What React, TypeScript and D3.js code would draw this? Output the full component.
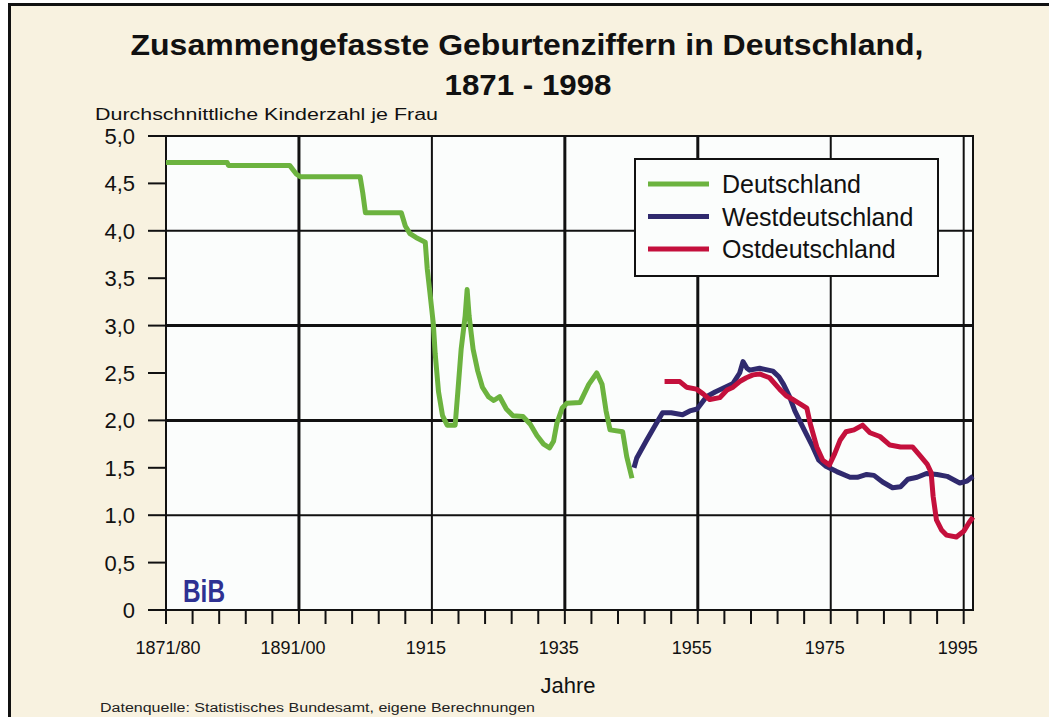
import * as d3 from "d3";

// [Jahr, Kinder je Frau]
const deutschland: [number, number][] = [
  [1875, 4.72], [1884.2, 4.72], [1884.4, 4.69], [1893.6, 4.69], [1894.6, 4.6], [1895.2, 4.57],
  [1904.2, 4.57], [1904.6, 4.4], [1905.0, 4.19], [1910.4, 4.19], [1911.0, 4.05], [1911.7, 3.97],
  [1912.6, 3.93], [1914.0, 3.88], [1914.3, 3.6], [1914.7, 3.35], [1915.2, 3.03], [1915.5, 2.7],
  [1916.0, 2.3], [1916.6, 2.05], [1917.3, 1.95], [1918.5, 1.95], [1918.9, 2.3], [1919.4, 2.75],
  [1920.0, 3.1], [1920.3, 3.38], [1920.6, 3.1], [1921.2, 2.75], [1921.9, 2.52], [1922.6, 2.35],
  [1923.5, 2.25], [1924.3, 2.21], [1925.2, 2.25], [1926.2, 2.12], [1927.2, 2.05], [1928.7, 2.04],
  [1929.8, 1.96], [1930.8, 1.84], [1931.8, 1.75], [1932.7, 1.71], [1933.3, 1.78], [1933.8, 1.97],
  [1934.6, 2.13], [1935.3, 2.18], [1937.3, 2.19], [1938.6, 2.38], [1939.8, 2.5], [1940.6, 2.38],
  [1941.2, 2.1], [1941.8, 1.9], [1943.7, 1.88], [1944.3, 1.62], [1945.1, 1.39],
];

const westdeutschland: [number, number][] = [
  [1945.4, 1.5], [1945.8, 1.6], [1947.3, 1.79], [1948.6, 1.95], [1949.7, 2.08], [1951, 2.08],
  [1952.7, 2.06], [1953.8, 2.1], [1954.9, 2.12], [1956.3, 2.25], [1957.6, 2.3], [1958.8, 2.34],
  [1960.3, 2.39], [1961.3, 2.5], [1961.8, 2.62], [1962.4, 2.55], [1962.8, 2.53], [1964.3, 2.55],
  [1966.3, 2.52], [1967.2, 2.46], [1967.9, 2.38], [1968.8, 2.25], [1969.6, 2.1], [1970.8, 1.93],
  [1972.3, 1.72], [1973.2, 1.58], [1974.2, 1.52], [1975.9, 1.46], [1977.9, 1.4], [1979, 1.4],
  [1980.4, 1.43], [1981.5, 1.42], [1982.8, 1.35], [1984.3, 1.29], [1985.5, 1.3], [1986.6, 1.38],
  [1988, 1.4], [1989.4, 1.44], [1991, 1.43], [1992.5, 1.41], [1994.4, 1.34], [1995.5, 1.36],
  [1996.4, 1.41],
];

const ostdeutschland: [number, number][] = [
  [1950, 2.41], [1952.3, 2.41], [1953.3, 2.35], [1954.8, 2.33], [1955.8, 2.28], [1956.8, 2.22],
  [1958.3, 2.24], [1959.4, 2.32], [1960.3, 2.35], [1961.3, 2.41], [1962.3, 2.45], [1963.3, 2.48],
  [1964.3, 2.49], [1965.8, 2.45], [1967.3, 2.33], [1968.3, 2.26], [1969.3, 2.22], [1970.5, 2.17],
  [1971.4, 2.13], [1971.9, 1.97], [1972.9, 1.72], [1973.8, 1.58], [1974.8, 1.53], [1975.6, 1.65],
  [1976.4, 1.79], [1977.3, 1.88], [1978.5, 1.9], [1979.8, 1.95], [1980.9, 1.87], [1982.4, 1.83],
  [1983.9, 1.74], [1985.5, 1.72], [1987.3, 1.72], [1988.4, 1.63], [1989.5, 1.54], [1990.1, 1.45],
  [1990.4, 1.2], [1990.9, 0.95], [1991.7, 0.84], [1992.4, 0.79], [1993.9, 0.77], [1995.0, 0.83],
  [1995.8, 0.92], [1996.4, 0.98],
];

const xTickLabels: [number, string][] = [
  [1875, "1871/80"], [1895, "1891/00"], [1915, "1915"], [1935, "1935"],
  [1955, "1955"], [1975, "1975"], [1995, "1995"],
];
const yTicks = [0, 0.5, 1, 1.5, 2, 2.5, 3, 3.5, 4, 4.5, 5];
const yGrid = [1, 2, 3, 4];

const series = [
  { name: "Deutschland", data: deutschland, color: "#6cb33f" },
  { name: "Westdeutschland", data: westdeutschland, color: "#302a6e" },
  { name: "Ostdeutschland", data: ostdeutschland, color: "#c4103c" },
];

const FONT = "'Liberation Sans', Arial, sans-serif";

export default function App() {
  const width = 1049;
  const height = 717;
  const left = 166, right = 973, top = 136, bottom = 610;

  const x = d3.scaleLinear().domain([1875, 1996.4]).range([left, right]);
  const y = d3.scaleLinear().domain([0, 5]).range([bottom, top]);
  const line = d3
    .line<[number, number]>()
    .x((d) => x(d[0]))
    .y((d) => y(d[1]));

  const minorTicks = d3.range(1875, 1996, 4);
  const thickV = new Set([1895, 1935, 1955]);
  const thickH = new Set([2, 3]);

  return (
    <div style={{ position: "absolute", left: 0, top: 0 }}>
      <svg width={width} height={height} style={{ display: "block", fontFamily: FONT }}>
        <rect width={width} height={height} fill="#ffffff" />
        <rect x={9.5} y={4.5} width={width + 20} height={height + 20} fill="#f8f2e0" stroke="#111" strokeWidth={3} />

        {/* titles */}
        <text x={527} y={55} textAnchor="middle" fontSize={30} fontWeight="bold" fill="#111" textLength={793} lengthAdjust="spacingAndGlyphs">
          Zusammengefasste Geburtenziffern in Deutschland,
        </text>
        <text x={528} y={95} textAnchor="middle" fontSize={30} fontWeight="bold" fill="#111" textLength={167} lengthAdjust="spacingAndGlyphs">
          1871 - 1998
        </text>
        <text x={95} y={120} fontSize={16} fill="#111" textLength={343} lengthAdjust="spacingAndGlyphs">
          Durchschnittliche Kinderzahl je Frau
        </text>

        {/* plot area */}
        <rect x={left} y={top} width={right - left} height={bottom - top} fill="#fbfdfc" />

        {yGrid.map((v) => (
          <line key={"h" + v} x1={left} x2={right} y1={y(v)} y2={y(v)} stroke="#111" strokeWidth={thickH.has(v) ? 3 : 2} />
        ))}
        {xTickLabels.slice(1).map(([yr]) => (
          <line key={"v" + yr} x1={x(yr)} x2={x(yr)} y1={top} y2={bottom} stroke="#111" strokeWidth={thickV.has(yr) ? 3 : 2} />
        ))}

        <rect x={left} y={top} width={right - left} height={bottom - top} fill="none" stroke="#111" strokeWidth={2} />

        {/* y axis */}
        {yTicks.map((v) => (
          <g key={"yt" + v}>
            <line x1={148} x2={left} y1={y(v)} y2={y(v)} stroke="#111" strokeWidth={2} />
            <text x={135} y={y(v) + 8} textAnchor="end" fontSize={22} fill="#111">
              {v === 0 ? "0" : d3.format(".1f")(v).replace(".", ",")}
            </text>
          </g>
        ))}
        <line x1={148} x2={left} y1={bottom} y2={bottom} stroke="#111" strokeWidth={2} />

        {/* x axis */}
        {minorTicks.map((t) => (
          <line key={"xt" + t} x1={x(t)} x2={x(t)} y1={bottom} y2={bottom + 14} stroke="#111" strokeWidth={2} />
        ))}
        {xTickLabels.map(([yr, label], i) => (
          <text key={"xl" + yr} x={x(yr) - (i === 0 ? -2 : 6)} y={654} textAnchor="middle" fontSize={18} fill="#111">
            {label}
          </text>
        ))}
        <text x={568} y={693} textAnchor="middle" fontSize={22} fill="#111">Jahre</text>
        <text x={100} y={712} fontSize={12} fill="#222" textLength={435} lengthAdjust="spacingAndGlyphs">
          Datenquelle: Statistisches Bundesamt, eigene Berechnungen
        </text>

        {/* BiB logo */}
        <text x={183} y={602} fontSize={32} fontWeight="bold" fill="#2e3192" textLength={42} lengthAdjust="spacingAndGlyphs">
          BiB
        </text>

        {/* series */}
        {series.map((s) => (
          <path key={s.name} d={line(s.data) ?? ""} fill="none" stroke={s.color} strokeWidth={5} strokeLinejoin="round" />
        ))}

        {/* legend */}
        <rect x={635} y={159} width={303} height={117} fill="#fbfdfc" stroke="#111" strokeWidth={2} />
        {series.map((s, i) => (
          <g key={"lg" + s.name}>
            <line x1={648} x2={709} y1={184 + i * 32.5} y2={184 + i * 32.5} stroke={s.color} strokeWidth={5} />
            <text x={722} y={193 + i * 32.5} fontSize={25} fill="#111">{s.name}</text>
          </g>
        ))}
      </svg>
    </div>
  );
}
